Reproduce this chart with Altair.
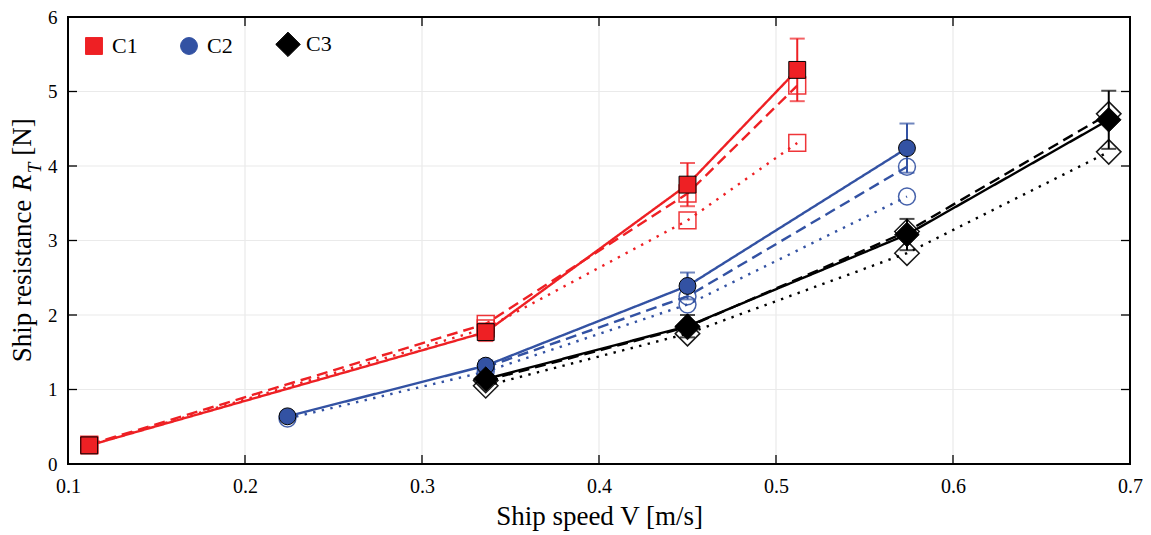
import altair as alt
import pandas as pd

FONT = "Liberation Serif"
W, H = 1062, 447

configs = ["C1", "C2", "C3"]
colors = ["#EE2024", "#3352A3", "#000000"]
# square, circle and an enlarged diamond (custom path)
shapes = ["square", "circle", "M-1.45,0L0,-1.45L1.45,0L0,1.45Z"]
MARKER_SIZE = 285

# Ship speeds (m/s)
V_C1 = [0.112, 0.336, 0.450, 0.512]
V_C2 = [0.224, 0.336, 0.450, 0.574]
V_C3 = [0.336, 0.450, 0.574, 0.688]

# Experiment (filled markers, solid line) with error bars
exp_C1 = [0.25, 1.77, 3.75, 5.29]
exp_C2 = [0.64, 1.32, 2.39, 4.24]
exp_C3 = [1.14, 1.85, 3.08, 4.62]
err_C1 = [0.03, 0.12, 0.29, 0.42]
err_C2 = [0.03, 0.07, 0.18, 0.33]
err_C3 = [0.05, 0.15, 0.21, 0.39]

# Dashed series (open markers)
dash_V_C1 = [0.112, 0.336, 0.450, 0.512]
dash_C1 = [0.26, 1.88, 3.63, 5.08]
dash_V_C2 = [0.336, 0.450, 0.574]
dash_C2 = [1.30, 2.25, 3.99]
dash_V_C3 = [0.336, 0.450, 0.574, 0.688]
dash_C3 = [1.12, 1.84, 3.12, 4.70]

# Dotted series (open markers)
dot_V_C1 = [0.112, 0.336, 0.450, 0.512]
dot_C1 = [0.25, 1.82, 3.27, 4.31]
dot_V_C2 = [0.224, 0.336, 0.450, 0.574]
dot_C2 = [0.61, 1.24, 2.14, 3.59]
dot_V_C3 = [0.336, 0.450, 0.574, 0.688]
dot_C3 = [1.05, 1.75, 2.83, 4.19]

x_ticks = [0.1, 0.2, 0.3, 0.4, 0.5, 0.6, 0.7]
y_ticks = [0, 1, 2, 3, 4, 5, 6]

rows = []
def add(cfg, method, vs, rs, errs=None):
    for i, (v, r) in enumerate(zip(vs, rs)):
        e = errs[i] if errs else 0.0
        rows.append({"config": cfg, "method": method, "V": v, "R": r,
                     "lo": r - e, "hi": r + e})

add("C1", "exp", V_C1, exp_C1, err_C1)
add("C2", "exp", V_C2, exp_C2, err_C2)
add("C3", "exp", V_C3, exp_C3, err_C3)
add("C1", "dash", dash_V_C1, dash_C1)
add("C2", "dash", dash_V_C2, dash_C2)
add("C3", "dash", dash_V_C3, dash_C3)
add("C1", "dot", dot_V_C1, dot_C1)
add("C2", "dot", dot_V_C2, dot_C2)
add("C3", "dot", dot_V_C3, dot_C3)
df = pd.DataFrame(rows)
exp_df = df[df.method == "exp"]
open_df = df[df.method != "exp"]
caps_df = pd.concat([
    exp_df.assign(cap=exp_df["lo"]),
    exp_df.assign(cap=exp_df["hi"]),
])

xs = alt.Scale(domain=[0.1, 0.7], nice=False, zero=False)
ys = alt.Scale(domain=[0, 6], nice=False, zero=False)

x_axis = alt.Axis(values=x_ticks, format=".1f", ticks=False, domain=False, grid=False,
                  labelFont=FONT, labelFontSize=20, labelColor="black", labelPadding=12,
                  labelFlush=False,
                  title="Ship speed V [m/s]", titleFont=FONT, titleFontSize=27,
                  titleFontWeight="normal", titleColor="black", titlePadding=7)
y_axis = alt.Axis(values=y_ticks, format="d", ticks=False, domain=False, grid=False,
                  labelFont=FONT, labelFontSize=19, labelColor="black", labelPadding=11,
                  labelFlush=False, title=None)

X = alt.X("V:Q", scale=xs, axis=x_axis)
Y = alt.Y("R:Q", scale=ys, axis=y_axis)

color_s = alt.Scale(domain=configs, range=colors)
shape_s = alt.Scale(domain=configs, range=shapes)
dash_s = alt.Scale(domain=["exp", "dash", "dot"], range=[[1, 0], [11, 6], [2.4, 6.4]])

xt_df = pd.DataFrame({"v": x_ticks})
yt_df = pd.DataFrame({"v": y_ticks})
XT = alt.X("v:Q", scale=xs, axis=x_axis)
YT = alt.Y("v:Q", scale=ys, axis=y_axis)

leg = alt.Legend(
    title=None, orient="none", legendX=15, legendY=16, direction="horizontal",
    labelFont=FONT, labelFontSize=22, labelColor="black", labelOffset=7,
    columnPadding=40, padding=0, symbolStrokeColor="black", symbolStrokeWidth=1,
    symbolSize=MARKER_SIZE,
)

# empty layer that only carries the legend definition (first, so it wins the merge)
legend_layer = alt.Chart(exp_df.iloc[0:0]).mark_point(
    filled=True, stroke="black", strokeWidth=1, opacity=1, size=MARKER_SIZE).encode(
    x=X, y=Y,
    fill=alt.Fill("config:N", scale=color_s, legend=leg),
    shape=alt.Shape("config:N", scale=shape_s, legend=leg),
)

grid_x = alt.Chart(xt_df).mark_rule(color="#EAEAEA", strokeWidth=1.2).encode(x=XT)
grid_y = alt.Chart(yt_df).mark_rule(color="#EAEAEA", strokeWidth=1.2).encode(y=YT)

lines = alt.Chart(df).mark_line(strokeWidth=2.4).encode(
    x=X, y=Y,
    color=alt.Color("config:N", scale=color_s, legend=None),
    strokeDash=alt.StrokeDash("method:N", scale=dash_s, legend=None),
    order=alt.Order("V:Q"),
)

open_pts = alt.Chart(open_df).mark_point(filled=False, strokeWidth=1.5, opacity=0.9,
                                         size=MARKER_SIZE).encode(
    x=X, y=Y,
    color=alt.Color("config:N", scale=color_s, legend=None),
    shape=alt.Shape("config:N", scale=shape_s, legend=None),
)

err_rules = alt.Chart(exp_df).mark_rule(strokeWidth=2).encode(
    x=X, y=alt.Y("lo:Q", scale=ys, axis=y_axis), y2="hi:Q",
    color=alt.Color("config:N", scale=color_s, legend=None),
)
err_caps = alt.Chart(caps_df).mark_tick(orient="horizontal", size=15, thickness=2).encode(
    x=X, y=alt.Y("cap:Q", scale=ys, axis=y_axis),
    color=alt.Color("config:N", scale=color_s, legend=None),
)

filled_pts = alt.Chart(exp_df).mark_point(filled=True, stroke="black", strokeWidth=1,
                                          opacity=1, size=MARKER_SIZE).encode(
    x=X, y=Y,
    fill=alt.Fill("config:N", scale=color_s, legend=None),
    shape=alt.Shape("config:N", scale=shape_s, legend=None),
)

tick_style = dict(color="black", strokeWidth=1.3)
tick_b = alt.Chart(xt_df).mark_rule(**tick_style).encode(
    x=XT, y=alt.value(H), y2=alt.value(H - 9))
tick_t = alt.Chart(xt_df).mark_rule(**tick_style).encode(
    x=XT, y=alt.value(0), y2=alt.value(9))
tick_l = alt.Chart(yt_df).mark_rule(**tick_style).encode(
    y=YT, x=alt.value(0), x2=alt.value(9))
tick_r = alt.Chart(yt_df).mark_rule(**tick_style).encode(
    y=YT, x=alt.value(W), x2=alt.value(W - 9))

frame = alt.Chart(pd.DataFrame({"f": [0]})).mark_rect(
    fill=None, stroke="black", strokeWidth=2).encode(
    x=alt.value(0), x2=alt.value(W), y=alt.value(0), y2=alt.value(H))

def ytitle(txt, xp, yp, size=27, style="normal"):
    return alt.Chart(pd.DataFrame({"t": [txt]})).mark_text(
        angle=270, font=FONT, fontSize=size, fontStyle=style, color="black",
        align="center", baseline="middle").encode(
        text="t:N", x=alt.value(xp), y=alt.value(yp))

yt_parts = [
    ytitle("Ship resistance", -45, 264),
    ytitle("R", -45, 166, style="italic"),
    ytitle("T", -33, 151, size=19, style="italic"),
    ytitle("[N]", -45, 120),
]

chart = alt.layer(
    legend_layer, grid_x, grid_y, lines, open_pts, err_rules, err_caps, filled_pts,
    tick_b, tick_t, tick_l, tick_r, frame, *yt_parts,
).properties(
    width=W, height=H,
    autosize=alt.AutoSizeParams(type="none"),
    padding={"left": 60, "top": 9, "right": 13, "bottom": 70},
).configure_view(stroke=None).configure(background="white")

chart.save("out.html", embed_options={"renderer": "svg", "actions": False})
